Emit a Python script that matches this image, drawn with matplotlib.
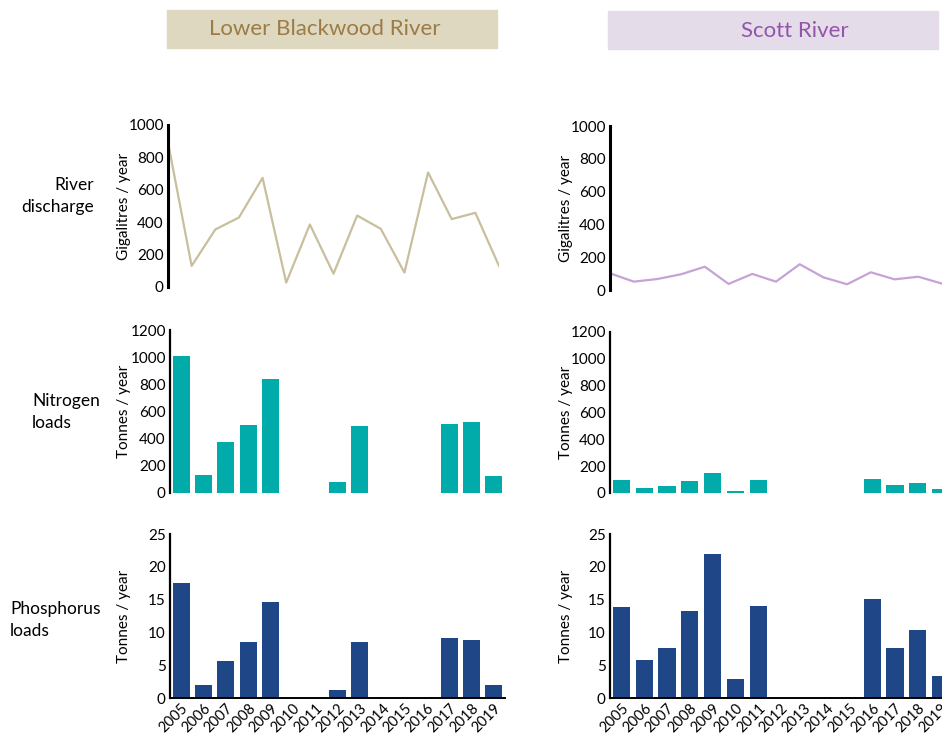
import numpy as np
import matplotlib
matplotlib.use("Agg")
import matplotlib.pyplot as plt
from matplotlib.patches import Rectangle

plt.rcParams['font.family'] = ['Lato', 'DejaVu Sans']

years = [str(y) for y in range(2005, 2020)]
nan = np.nan

# Lower Blackwood River
lb_discharge = [893, 130, 355, 429, 674, 27, 386, 82, 441, 359, 89, 707, 419, 458, 130]
lb_nitrogen = [1008, 130, 374, 499, 841, nan, nan, 79, 492, nan, nan, nan, 509, 521, 123]
lb_phosphorus = [17.6, 2.0, 5.6, 8.6, 14.7, nan, nan, 1.2, 8.5, nan, nan, nan, 9.2, 8.9, 2.0]

# Scott River
sc_discharge = [102, 51, 67, 96, 142, 37, 98, 51, 157, 77, 35, 108, 65, 81, 39]
sc_nitrogen = [99, 40, 54, 92, 151, 17, 99, nan, nan, nan, nan, 106, 62, 77, 32]
sc_phosphorus = [13.9, 5.8, 7.6, 13.2, 22.0, 2.9, 14.0, nan, nan, nan, nan, 15.1, 7.6, 10.3, 3.3]

W, H = 942, 733
fig = plt.figure(figsize=(W / 100, H / 100), dpi=100)


def px_axes(x0, x1, ytop, ybot):
    ax = fig.add_axes([x0 / W, 1 - ybot / H, (x1 - x0) / W, (ybot - ytop) / H])
    ax._px = (x0, x1)
    return ax


def style(ax, ylabel, ticks, label_x, bottom=False, lw=1.6):
    for s in ['top', 'right']:
        ax.spines[s].set_visible(False)
    ax.spines['left'].set_linewidth(lw)
    ax.spines['bottom'].set_visible(bottom)
    ax.spines['bottom'].set_linewidth(1.4)
    ax.set_yticks(ticks)
    ax.tick_params(axis='y', length=0, labelsize=11, pad=3)
    ax.set_ylabel(ylabel, fontsize=11)
    x0, x1 = ax._px
    # label_x is the right edge of the rotated label, in pixels
    ax.yaxis.set_label_coords((label_x - x0) / (x1 - x0), 0.5)
    ax.set_facecolor('none')


def line_panel(ax, vals, color, label_x):
    x = np.arange(len(vals))
    ax.plot(x, vals, color=color, lw=1.6)
    ax.set_xlim(0, len(vals) - 1)
    ax.set_ylim(0, 1000)
    ax.set_xticks([])
    style(ax, 'Gigalitres / year', range(0, 1001, 200), label_x, lw=2.2)


def bar_panel(ax, vals, color, ymax, step, ylabel, label_x, xlabels=False):
    vals = np.array(vals, dtype=float)
    x = np.arange(len(vals))
    ok = np.isfinite(vals)
    ax.bar(x[ok], vals[ok], width=0.75, color=color)
    ax.set_xlim(-0.5, len(vals) - 0.5)
    ax.set_ylim(0, ymax)
    style(ax, ylabel, np.arange(0, ymax + 1, step), label_x, bottom=xlabels)
    if xlabels:
        ax.set_xticks(x)
        ax.set_xticklabels(years, rotation=45, ha='right', rotation_mode='anchor',
                           fontsize=10.5)
        ax.tick_params(axis='x', length=0, pad=2)
    else:
        ax.set_xticks([])


teal = '#00aba9'
navy = '#1f4788'

# left column
line_panel(px_axes(168, 499, 125, 287), lb_discharge, '#c9bf9c', 131)
bar_panel(px_axes(170, 505, 330, 493), lb_nitrogen, teal, 1200, 200, 'Tonnes / year', 131)
bar_panel(px_axes(170, 505, 534, 698), lb_phosphorus, navy, 25, 5, 'Tonnes / year', 131,
          xlabels=True)

# right column (runs past the right edge of the figure)
line_panel(px_axes(610, 942, 126, 290), sc_discharge, '#c7a2d6', 573)
bar_panel(px_axes(610, 952, 332, 493), sc_nitrogen, teal, 1200, 200, 'Tonnes / year', 573)
bar_panel(px_axes(610, 952, 534, 698), sc_phosphorus, navy, 25, 5, 'Tonnes / year', 573,
          xlabels=True)

# column headers
fig.patches.append(Rectangle((167 / W, 1 - 48 / H), 330 / W, 38 / H,
                             transform=fig.transFigure, color='#ded8c0', zorder=0))
fig.text(325 / W, 1 - 29 / H, 'Lower Blackwood River', ha='center', va='center',
         fontsize=16, color='#9c7b45')
fig.patches.append(Rectangle((608 / W, 1 - 49 / H), 330 / W, 38 / H,
                             transform=fig.transFigure, color='#e5dcea', zorder=0))
fig.text(795 / W, 1 - 31 / H, 'Scott River', ha='center', va='center',
         fontsize=16, color='#9255aa')

# row labels
fig.text(94 / W, 1 - 196 / H, 'River\ndischarge', ha='right', va='center',
         fontsize=12.5, linespacing=1.5, multialignment='right')
fig.text(32 / W, 1 - 412 / H, 'Nitrogen\nloads', ha='left', va='center',
         fontsize=12.5, linespacing=1.5)
fig.text(10 / W, 1 - 620 / H, 'Phosphorus\nloads', ha='left', va='center',
         fontsize=12.5, linespacing=1.5)

fig.savefig('out.png', dpi=100)
